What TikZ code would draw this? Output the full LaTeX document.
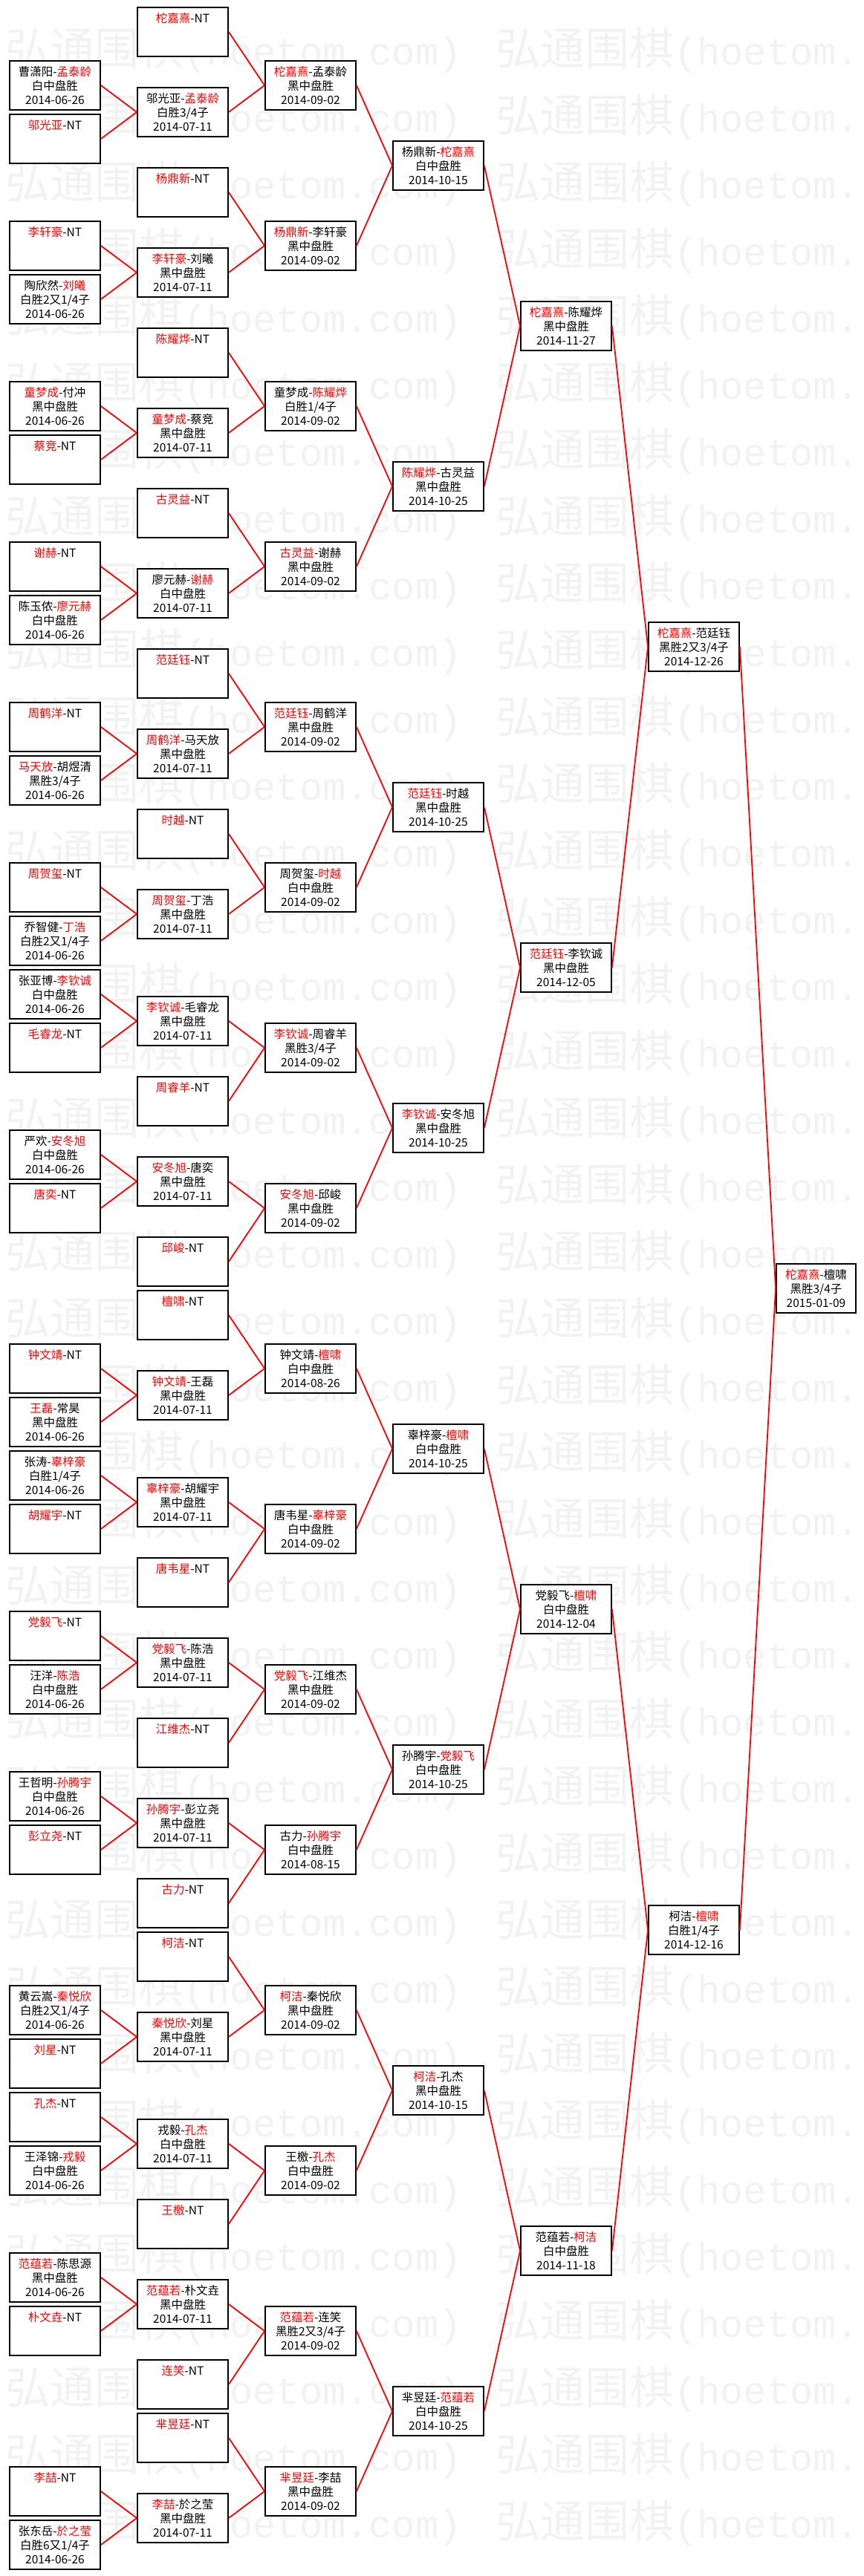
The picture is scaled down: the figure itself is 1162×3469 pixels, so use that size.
\documentclass[tikz,border=0pt]{standalone}
\usepackage{fontspec}
\newfontfamily\cjk{Noto Sans CJK SC}
\newfontfamily\wmlat{Liberation Mono}
\newcommand\R[1]{\textcolor{red}{#1}}
\tikzset{
  gamebox/.style={draw=black, line width=1.8pt, fill=white, rectangle,
    minimum width=122pt, minimum height=65.3pt, inner sep=0pt, align=center,
    font=\cjk\fontsize{15.5}{19.3}\selectfont, text=black},
  finalbox/.style={gamebox, minimum width=107pt},
  conn/.style={draw=red, line width=1.8pt},
  wm/.style={text=black!5, inner sep=0pt, anchor=west},
}
% name, column, slot, line1, line2, line3
\newcommand\game[6]{\node[gamebox] (#1) at ({74+172*#2},{42.95+72*#3}) {#4\\#5\\#6};}
% name, column, slot, player
\newcommand\nt[4]{\node[gamebox] (#1) at ({74+172*#2},{42.95+72*#3}) {\R{#4}-NT\\\phantom{0}\\\phantom{0}};}
\begin{document}
\begin{tikzpicture}[x=1pt,y=-1pt]
\useasboundingbox (0,0) rectangle (1162,3469);
\fill[white] (0,0) rectangle (1162,3469);
% watermark
\foreach \k in {0,...,37}{
  \node[wm] (wma\k) at (7,{67.3+90*\k}) {\cjk\fontsize{60}{60}\selectfont 弘通围棋\wmlat\fontsize{52}{52}\selectfont(hoetom.com)};
  \node[wm] (wmb\k) at (667,{67.3+90*\k}) {\cjk\fontsize{60}{60}\selectfont 弘通围棋\wmlat\fontsize{52}{52}\selectfont(hoetom.};
}
% ---- column 1 (2014-06-26) ----
\game{A1}{0}{1}{曹潇阳-\R{孟泰龄}}{白中盘胜}{2014-06-26}
\nt{A2}{0}{2}{邬光亚}
\nt{A4}{0}{4}{李轩豪}
\game{A5}{0}{5}{陶欣然-\R{刘曦}}{白胜2又1/4子}{2014-06-26}
\game{A7}{0}{7}{\R{童梦成}-付冲}{黑中盘胜}{2014-06-26}
\nt{A8}{0}{8}{蔡竞}
\nt{A10}{0}{10}{谢赫}
\game{A11}{0}{11}{陈玉侬-\R{廖元赫}}{白中盘胜}{2014-06-26}
\nt{A13}{0}{13}{周鹤洋}
\game{A14}{0}{14}{\R{马天放}-胡煜清}{黑胜3/4子}{2014-06-26}
\nt{A16}{0}{16}{周贺玺}
\game{A17}{0}{17}{乔智健-\R{丁浩}}{白胜2又1/4子}{2014-06-26}
\game{A18}{0}{18}{张亚博-\R{李钦诚}}{白中盘胜}{2014-06-26}
\nt{A19}{0}{19}{毛睿龙}
\game{A21}{0}{21}{严欢-\R{安冬旭}}{白中盘胜}{2014-06-26}
\nt{A22}{0}{22}{唐奕}
\nt{A25}{0}{25}{钟文靖}
\game{A26}{0}{26}{\R{王磊}-常昊}{黑中盘胜}{2014-06-26}
\game{A27}{0}{27}{张涛-\R{辜梓豪}}{白胜1/4子}{2014-06-26}
\nt{A28}{0}{28}{胡耀宇}
\nt{A30}{0}{30}{党毅飞}
\game{A31}{0}{31}{汪洋-\R{陈浩}}{白中盘胜}{2014-06-26}
\game{A33}{0}{33}{王哲明-\R{孙腾宇}}{白中盘胜}{2014-06-26}
\nt{A34}{0}{34}{彭立尧}
\game{A37}{0}{37}{黄云嵩-\R{秦悦欣}}{白胜2又1/4子}{2014-06-26}
\nt{A38}{0}{38}{刘星}
\nt{A39}{0}{39}{孔杰}
\game{A40}{0}{40}{王泽锦-\R{戎毅}}{白中盘胜}{2014-06-26}
\game{A42}{0}{42}{\R{范蕴若}-陈思源}{黑中盘胜}{2014-06-26}
\nt{A43}{0}{43}{朴文垚}
\nt{A46}{0}{46}{李喆}
\game{A47}{0}{47}{张东岳-\R{於之莹}}{白胜6又1/4子}{2014-06-26}
% ---- column 2 (2014-07-11) ----
\nt{B0}{1}{0}{柁嘉熹}
\game{Bh1}{1}{1.5}{邬光亚-\R{孟泰龄}}{白胜3/4子}{2014-07-11}
\nt{B3}{1}{3}{杨鼎新}
\game{Bh4}{1}{4.5}{\R{李轩豪}-刘曦}{黑中盘胜}{2014-07-11}
\nt{B6}{1}{6}{陈耀烨}
\game{Bh7}{1}{7.5}{\R{童梦成}-蔡竞}{黑中盘胜}{2014-07-11}
\nt{B9}{1}{9}{古灵益}
\game{Bh10}{1}{10.5}{廖元赫-\R{谢赫}}{白中盘胜}{2014-07-11}
\nt{B12}{1}{12}{范廷钰}
\game{Bh13}{1}{13.5}{\R{周鹤洋}-马天放}{黑中盘胜}{2014-07-11}
\nt{B15}{1}{15}{时越}
\game{Bh16}{1}{16.5}{\R{周贺玺}-丁浩}{黑中盘胜}{2014-07-11}
\game{Bh18}{1}{18.5}{\R{李钦诚}-毛睿龙}{黑中盘胜}{2014-07-11}
\nt{B20}{1}{20}{周睿羊}
\game{Bh21}{1}{21.5}{\R{安冬旭}-唐奕}{黑中盘胜}{2014-07-11}
\nt{B23}{1}{23}{邱峻}
\nt{B24}{1}{24}{檀啸}
\game{Bh25}{1}{25.5}{\R{钟文靖}-王磊}{黑中盘胜}{2014-07-11}
\game{Bh27}{1}{27.5}{\R{辜梓豪}-胡耀宇}{黑中盘胜}{2014-07-11}
\nt{B29}{1}{29}{唐韦星}
\game{Bh30}{1}{30.5}{\R{党毅飞}-陈浩}{黑中盘胜}{2014-07-11}
\nt{B32}{1}{32}{江维杰}
\game{Bh33}{1}{33.5}{\R{孙腾宇}-彭立尧}{黑中盘胜}{2014-07-11}
\nt{B35}{1}{35}{古力}
\nt{B36}{1}{36}{柯洁}
\game{Bh37}{1}{37.5}{\R{秦悦欣}-刘星}{黑中盘胜}{2014-07-11}
\game{Bh39}{1}{39.5}{戎毅-\R{孔杰}}{白中盘胜}{2014-07-11}
\nt{B41}{1}{41}{王檄}
\game{Bh42}{1}{42.5}{\R{范蕴若}-朴文垚}{黑中盘胜}{2014-07-11}
\nt{B44}{1}{44}{连笑}
\nt{B45}{1}{45}{芈昱廷}
\game{Bh46}{1}{46.5}{\R{李喆}-於之莹}{黑中盘胜}{2014-07-11}
% ---- column 3 ----
\game{C1}{2}{1}{\R{柁嘉熹}-孟泰龄}{黑中盘胜}{2014-09-02}
\game{C4}{2}{4}{\R{杨鼎新}-李轩豪}{黑中盘胜}{2014-09-02}
\game{C7}{2}{7}{童梦成-\R{陈耀烨}}{白胜1/4子}{2014-09-02}
\game{C10}{2}{10}{\R{古灵益}-谢赫}{黑中盘胜}{2014-09-02}
\game{C13}{2}{13}{\R{范廷钰}-周鹤洋}{黑中盘胜}{2014-09-02}
\game{C16}{2}{16}{周贺玺-\R{时越}}{白中盘胜}{2014-09-02}
\game{C19}{2}{19}{\R{李钦诚}-周睿羊}{黑胜3/4子}{2014-09-02}
\game{C22}{2}{22}{\R{安冬旭}-邱峻}{黑中盘胜}{2014-09-02}
\game{C25}{2}{25}{钟文靖-\R{檀啸}}{白中盘胜}{2014-08-26}
\game{C28}{2}{28}{唐韦星-\R{辜梓豪}}{白中盘胜}{2014-09-02}
\game{C31}{2}{31}{\R{党毅飞}-江维杰}{黑中盘胜}{2014-09-02}
\game{C34}{2}{34}{古力-\R{孙腾宇}}{白中盘胜}{2014-08-15}
\game{C37}{2}{37}{\R{柯洁}-秦悦欣}{黑中盘胜}{2014-09-02}
\game{C40}{2}{40}{王檄-\R{孔杰}}{白中盘胜}{2014-09-02}
\game{C43}{2}{43}{\R{范蕴若}-连笑}{黑胜2又3/4子}{2014-09-02}
\game{C46}{2}{46}{\R{芈昱廷}-李喆}{黑中盘胜}{2014-09-02}
% ---- column 4 ----
\game{D2}{3}{2.5}{杨鼎新-\R{柁嘉熹}}{白中盘胜}{2014-10-15}
\game{D8}{3}{8.5}{\R{陈耀烨}-古灵益}{黑中盘胜}{2014-10-25}
\game{D14}{3}{14.5}{\R{范廷钰}-时越}{黑中盘胜}{2014-10-25}
\game{D20}{3}{20.5}{\R{李钦诚}-安冬旭}{黑中盘胜}{2014-10-25}
\game{D26}{3}{26.5}{辜梓豪-\R{檀啸}}{白中盘胜}{2014-10-25}
\game{D32}{3}{32.5}{孙腾宇-\R{党毅飞}}{白中盘胜}{2014-10-25}
\game{D38}{3}{38.5}{\R{柯洁}-孔杰}{黑中盘胜}{2014-10-15}
\game{D44}{3}{44.5}{芈昱廷-\R{范蕴若}}{白中盘胜}{2014-10-25}
% ---- column 5 ----
\game{E5}{4}{5.5}{\R{柁嘉熹}-陈耀烨}{黑中盘胜}{2014-11-27}
\game{E17}{4}{17.5}{\R{范廷钰}-李钦诚}{黑中盘胜}{2014-12-05}
\game{E29}{4}{29.5}{党毅飞-\R{檀啸}}{白中盘胜}{2014-12-04}
\game{E41}{4}{41.5}{范蕴若-\R{柯洁}}{白中盘胜}{2014-11-18}
% ---- column 6 ----
\game{F11}{5}{11.5}{\R{柁嘉熹}-范廷钰}{黑胜2又3/4子}{2014-12-26}
\game{F35}{5}{35.5}{柯洁-\R{檀啸}}{白胜1/4子}{2014-12-16}
% ---- final ----
\node[finalbox] (G) at (1098.5,{42.95+72*23.5}) {\R{柁嘉熹}-檀啸\\黑胜3/4子\\2015-01-09};
% ---- connectors ----
\foreach \a/\b in {A1/Bh1,A2/Bh1,A4/Bh4,A5/Bh4,A7/Bh7,A8/Bh7,A10/Bh10,A11/Bh10,
  A13/Bh13,A14/Bh13,A16/Bh16,A17/Bh16,A18/Bh18,A19/Bh18,A21/Bh21,A22/Bh21,
  A25/Bh25,A26/Bh25,A27/Bh27,A28/Bh27,A30/Bh30,A31/Bh30,A33/Bh33,A34/Bh33,
  A37/Bh37,A38/Bh37,A39/Bh39,A40/Bh39,A42/Bh42,A43/Bh42,A46/Bh46,A47/Bh46,
  B0/C1,Bh1/C1,B3/C4,Bh4/C4,B6/C7,Bh7/C7,B9/C10,Bh10/C10,B12/C13,Bh13/C13,
  B15/C16,Bh16/C16,Bh18/C19,B20/C19,Bh21/C22,B23/C22,B24/C25,Bh25/C25,
  Bh27/C28,B29/C28,Bh30/C31,B32/C31,Bh33/C34,B35/C34,B36/C37,Bh37/C37,
  Bh39/C40,B41/C40,Bh42/C43,B44/C43,B45/C46,Bh46/C46,
  C1/D2,C4/D2,C7/D8,C10/D8,C13/D14,C16/D14,C19/D20,C22/D20,
  C25/D26,C28/D26,C31/D32,C34/D32,C37/D38,C40/D38,C43/D44,C46/D44,
  D2/E5,D8/E5,D14/E17,D20/E17,D26/E29,D32/E29,D38/E41,D44/E41,
  E5/F11,E17/F11,E29/F35,E41/F35,F11/G,F35/G}
  {\draw[conn] (\a.east) -- (\b.west);}
\end{tikzpicture}
\end{document}
